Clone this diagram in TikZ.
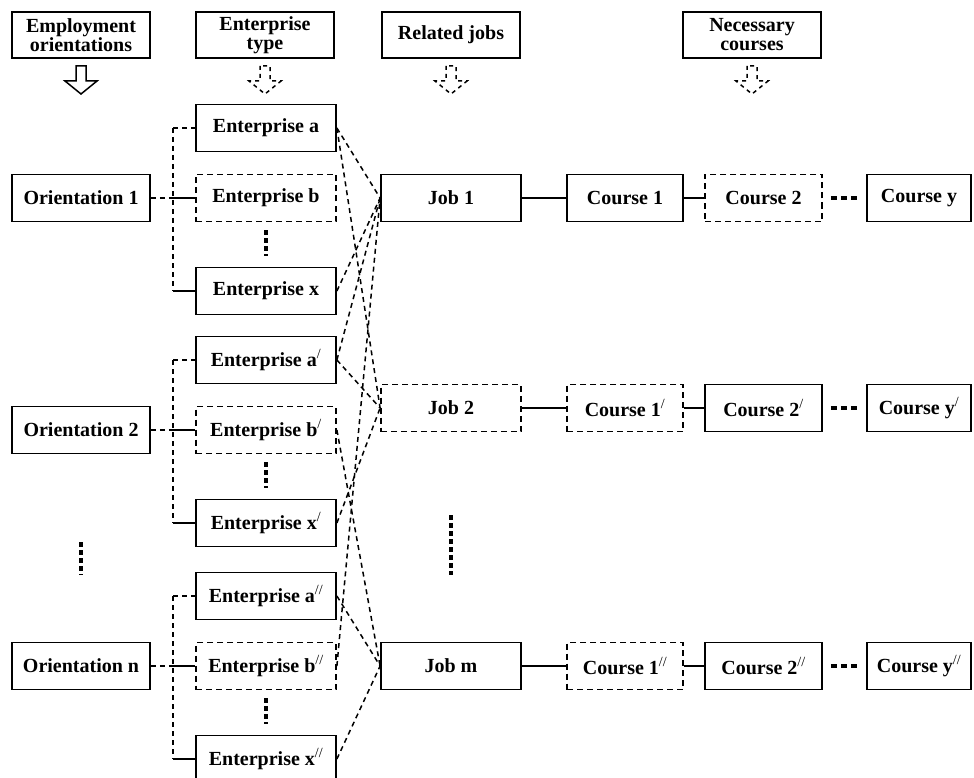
\documentclass[tikz,border=0pt]{standalone}
\usepackage{fontspec}
\setmainfont{Liberation Serif}
\newcommand{\pr}{\textsuperscript{\mdseries/}}
\newcommand{\ppr}{\textsuperscript{\mdseries//}}
\begin{document}
\begin{tikzpicture}[x=1pt,y=-1pt,
  every node/.style={font=\fontsize{20}{19}\selectfont\bfseries, align=center, inner sep=0pt},
  box/.style={draw, line width=1.8pt, minimum height=47pt},
  dbox/.style={box, dash pattern=on 6pt off 4pt},
  hdr/.style={box, minimum width=138pt, minimum height=46pt},
  orw/.style={minimum width=138pt},
  enw/.style={minimum width=140pt},
  jbw/.style={minimum width=140pt},
  c1w/.style={minimum width=116pt},
  c2w/.style={minimum width=117pt},
  cyw/.style={minimum width=104pt},
  link/.style={line width=1.5pt, dash pattern=on 5pt off 4pt},
  solidlink/.style={line width=1.8pt},
  vdots/.style={line width=4pt, dash pattern=on 5pt off 3pt},
  hdots/.style={line width=4pt, dash pattern=on 6pt off 4pt},
  downarrow/.pic={\draw[line width=1.5pt, line join=miter, pic actions] (-5,0) -- (-5,15) -- (-16,15) -- (0,28) -- (16,15) -- (5,15) -- (5,0) -- cycle;}
]
\useasboundingbox (0,0) rectangle (974,778);
\clip (0,0) rectangle (974,778);

% headers
\node[hdr] (h1) at (81,35) {Employment\\orientations};
\node[hdr] (h2) at (265,35) {Enterprise\\type};
\node[hdr] (h3) at (451,35) {Related jobs};
\node[hdr] (h4) at (752,35) {Necessary\\courses};

\pic at (81,66) {downarrow};
\pic[dash pattern=on 4pt off 4pt] at (265,66) {downarrow};
\pic[dash pattern=on 4pt off 4pt] at (451,66) {downarrow};
\pic[dash pattern=on 4pt off 4pt] at (752,66) {downarrow};

% orientations
\node[box, orw] (o1) at (81,198) {Orientation 1};
\node[box, orw] (o2) at (81,430) {Orientation 2};
\node[box, orw] (on) at (81,666) {Orientation n};

% enterprises
\node[box, enw]  (ea1) at (266,128) {Enterprise a};
\node[dbox, enw] (eb1) at (266,198) {Enterprise b};
\node[box, enw]  (ex1) at (266,291) {Enterprise x};
\node[box, enw]  (ea2) at (266,360) {Enterprise a\pr};
\node[dbox, enw] (eb2) at (266,430) {Enterprise b\pr};
\node[box, enw]  (ex2) at (266,523) {Enterprise x\pr};
\node[box, enw]  (ea3) at (266,596) {Enterprise a\ppr};
\node[dbox, enw] (eb3) at (266,666) {Enterprise b\ppr};
\node[box, enw]  (ex3) at (266,759) {Enterprise x\ppr};

% jobs
\node[box, jbw]  (j1) at (451,198) {Job 1};
\node[dbox, jbw] (j2) at (451,408) {Job 2};
\node[box, jbw]  (jm) at (451,666) {Job m};

% courses
\node[box, c1w]  (c11) at (625,198) {Course 1};
\node[dbox, c2w] (c12) at (763.5,198) {Course 2};
\node[box, cyw]  (c1y) at (919,198) {Course y};
\node[dbox, c1w] (c21) at (625,408) {Course 1\pr};
\node[box, c2w]  (c22) at (763.5,408) {Course 2\pr};
\node[box, cyw]  (c2y) at (919,408) {Course y\pr};
\node[dbox, c1w] (c31) at (625,666) {Course 1\ppr};
\node[box, c2w]  (c32) at (763.5,666) {Course 2\ppr};
\node[box, cyw]  (c3y) at (919,666) {Course y\ppr};

% trunks
\coordinate (tr) at (173,0);
\foreach \o/\a/\b/\x in {o1/ea1/eb1/ex1, o2/ea2/eb2/ex2, on/ea3/eb3/ex3}{
  \coordinate (ta) at (\a.west -| tr);
  \coordinate (tb) at (\b.west -| tr);
  \coordinate (tx) at (\x.west -| tr);
  \draw[link] (\o.east) -- (tb);
  \draw[solidlink] (tb) -- (\b.west);
  \draw[link] (ta) -- (\a.west);
  \draw[link] (ta) -- (tx);
  \draw[solidlink] (tx) -- (\x.west);
  \draw[vdots, shorten <=8pt, shorten >=11pt] (\b.south) -- (\x.north);
}

% enterprise to job links
\draw[link] (ea1.east) -- (j1.west);
\draw[link] (ea1.east) -- (j2.west);
\draw[link] (ex1.east) -- (j1.west);
\draw[link] (ea2.east) -- (j1.west);
\draw[link] (ea2.east) -- (j2.west);
\draw[link] (ex2.east) -- (j2.west);
\draw[link] (eb2.east) -- (jm.west);
\draw[link] (eb3.east) -- (j1.west);
\draw[link] (ea3.east) -- (jm.west);
\draw[link] (ex3.east) -- (jm.west);

% job to course chains
\foreach \j/\ca/\cb/\cy in {j1/c11/c12/c1y, j2/c21/c22/c2y, jm/c31/c32/c3y}{
  \draw[solidlink] (\j.east) -- (\ca.west);
  \draw[solidlink] (\ca.east) -- (\cb.west);
  \draw[hdots, shorten <=8pt, shorten >=9pt] (\cb.east) -- (\cy.west);
}

% column ellipses
\draw[vdots, shorten <=88pt, shorten >=67pt] (o2.south) -- (on.north);
\draw[vdots, shorten <=83pt, shorten >=67pt] (j2.south) -- (jm.north);
\end{tikzpicture}
\end{document}
